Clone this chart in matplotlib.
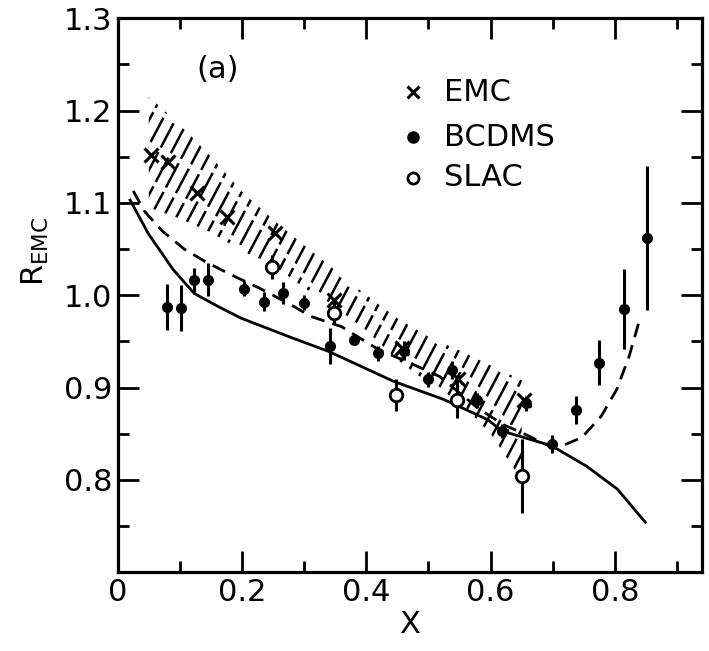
import numpy as np
import matplotlib
matplotlib.use("Agg")
import matplotlib.pyplot as plt
from matplotlib.patches import Polygon
from matplotlib.collections import LineCollection
from matplotlib.ticker import MultipleLocator

# EMC (crosses)
emc_x = [0.054, 0.081, 0.127, 0.176, 0.253, 0.348, 0.458, 0.548, 0.654]
emc_y = [1.152, 1.144, 1.111, 1.085, 1.067, 0.995, 0.943, 0.909, 0.887]

# BCDMS (filled)
bcdms_x = [0.079, 0.102, 0.123, 0.145, 0.203, 0.236, 0.266, 0.300, 0.341, 0.380, 0.419,
           0.460, 0.499, 0.538, 0.578, 0.618, 0.657, 0.698, 0.738, 0.775, 0.815, 0.852]
bcdms_y = [0.987, 0.986, 1.017, 1.017, 1.007, 0.993, 1.002, 0.992, 0.945, 0.951, 0.937,
           0.940, 0.909, 0.919, 0.886, 0.853, 0.883, 0.839, 0.876, 0.927, 0.985, 1.062]
bcdms_err = [0.025, 0.025, 0.013, 0.018, 0.008, 0.010, 0.012, 0.008, 0.020, 0.005, 0.008,
             0.010, 0.008, 0.010, 0.008, 0.008, 0.008, 0.010, 0.015, 0.024, 0.043, 0.078]

# SLAC (open)
slac_x = [0.248, 0.348, 0.447, 0.546, 0.651]
slac_y = [1.031, 0.981, 0.892, 0.887, 0.804]
slac_err = [0.013, 0.012, 0.017, 0.020, 0.040]

# theory curves
solid_x = [0.02, 0.049, 0.089, 0.123, 0.161, 0.199, 0.280, 0.340, 0.443, 0.525, 0.596,
           0.618, 0.698, 0.754, 0.804, 0.849]
solid_y = [1.103, 1.067, 1.028, 1.002, 0.988, 0.975, 0.954, 0.939, 0.907, 0.887, 0.865,
           0.853, 0.837, 0.815, 0.790, 0.754]
dash_x = [0.025, 0.043, 0.071, 0.107, 0.142, 0.183, 0.227, 0.278, 0.311, 0.360, 0.420,
          0.469, 0.518, 0.579, 0.620, 0.660, 0.690, 0.712, 0.747, 0.778, 0.803, 0.823, 0.840]
dash_y = [1.113, 1.091, 1.070, 1.050, 1.036, 1.022, 1.008, 0.990, 0.977, 0.966, 0.941,
          0.927, 0.912, 0.878, 0.860, 0.848, 0.838, 0.836, 0.846, 0.869, 0.898, 0.934, 0.974]

# EMC error band
band_x = [0.05, 0.10, 0.15, 0.20, 0.25, 0.30, 0.35, 0.40, 0.45, 0.50, 0.55, 0.60, 0.65]
band_hi = [1.215, 1.185, 1.150, 1.112, 1.082, 1.054, 1.027, 1.000, 0.975, 0.955, 0.940, 0.924, 0.908]
band_lo = [1.095, 1.083, 1.068, 1.048, 1.033, 1.008, 0.987, 0.962, 0.930, 0.905, 0.885, 0.850, 0.800]

plt.rcParams['font.family'] = ['DejaVu Sans']
fig = plt.figure(figsize=(7.09, 6.51), dpi=100)
ax = fig.add_axes([0.166, 0.121, 0.824, 0.851])
ax.set_xlim(0, 0.94)
ax.set_ylim(0.70, 1.30)

# hatched band drawn as clipped slanted lines (broken like the printed hatching)
poly = Polygon(list(zip(band_x, band_hi)) + list(zip(band_x[::-1], band_lo[::-1])),
               closed=True, facecolor='none', edgecolor='none')
ax.add_patch(poly)
slope = 1.28
segs, styles = [], []
for i, x0 in enumerate(np.arange(-0.5, 1.0, 0.021)):
    segs.append([(x0, 0.70), (x0 + 0.6 / slope, 1.30)])
    styles.append(((i * 4.3) % 13, (11, 2)))
lc = LineCollection(segs, colors='black', linewidths=1.8, linestyles=styles)
ax.add_collection(lc)
lc.set_clip_path(poly)

ax.plot(solid_x, solid_y, color='black', lw=2.0)
ax.plot(dash_x, dash_y, color='black', lw=2.0, dashes=(5, 3))

ax.plot(emc_x, emc_y, 'x', color='black', ms=10, mew=2.2)
ax.errorbar(bcdms_x, bcdms_y, yerr=bcdms_err, fmt='o', color='black', ms=7,
            elinewidth=2.2, capsize=0)
ax.errorbar(slac_x, slac_y, yerr=slac_err, fmt='o', mfc='white', mec='black', color='black',
            ms=9, mew=2.0, elinewidth=2.2, capsize=0)

# legend written as text
leg_y = [1.220, 1.171, 1.127]
ax.plot([0.475], [leg_y[0]], 'x', color='black', ms=9, mew=2.2)
ax.plot([0.475], [leg_y[1]], 'o', color='black', ms=8)
ax.plot([0.475], [leg_y[2]], 'o', mfc='white', mec='black', ms=8, mew=2)
for yy, name in zip(leg_y, ['EMC', 'BCDMS', 'SLAC']):
    ax.text(0.525, yy, name, fontsize=22, va='center', ha='left')
ax.text(0.16, 1.245, '(a)', fontsize=22, va='center', ha='center')

ax.set_xticks([0, 0.2, 0.4, 0.6, 0.8])
ax.set_xticklabels(['0', '0.2', '0.4', '0.6', '0.8'])
ax.set_yticks([0.8, 0.9, 1.0, 1.1, 1.2, 1.3])
ax.set_yticklabels(['0.8', '0.9', '1.0', '1.1', '1.2', '1.3'])
ax.xaxis.set_minor_locator(MultipleLocator(0.1))
ax.yaxis.set_minor_locator(MultipleLocator(0.05))
ax.tick_params(which='both', direction='in', top=True, right=True, labelsize=22, width=2)
ax.tick_params(which='major', length=15, pad=4)
ax.tick_params(which='minor', length=8)
for s in ax.spines.values():
    s.set_linewidth(2.3)

ax.set_xlabel('X', fontsize=22, labelpad=2)
ax.set_ylabel(r'$\mathregular{R_{EMC}}$', fontsize=22)
ax.yaxis.set_label_coords(-0.115, 0.58)

fig.savefig('out.png', dpi=100)
